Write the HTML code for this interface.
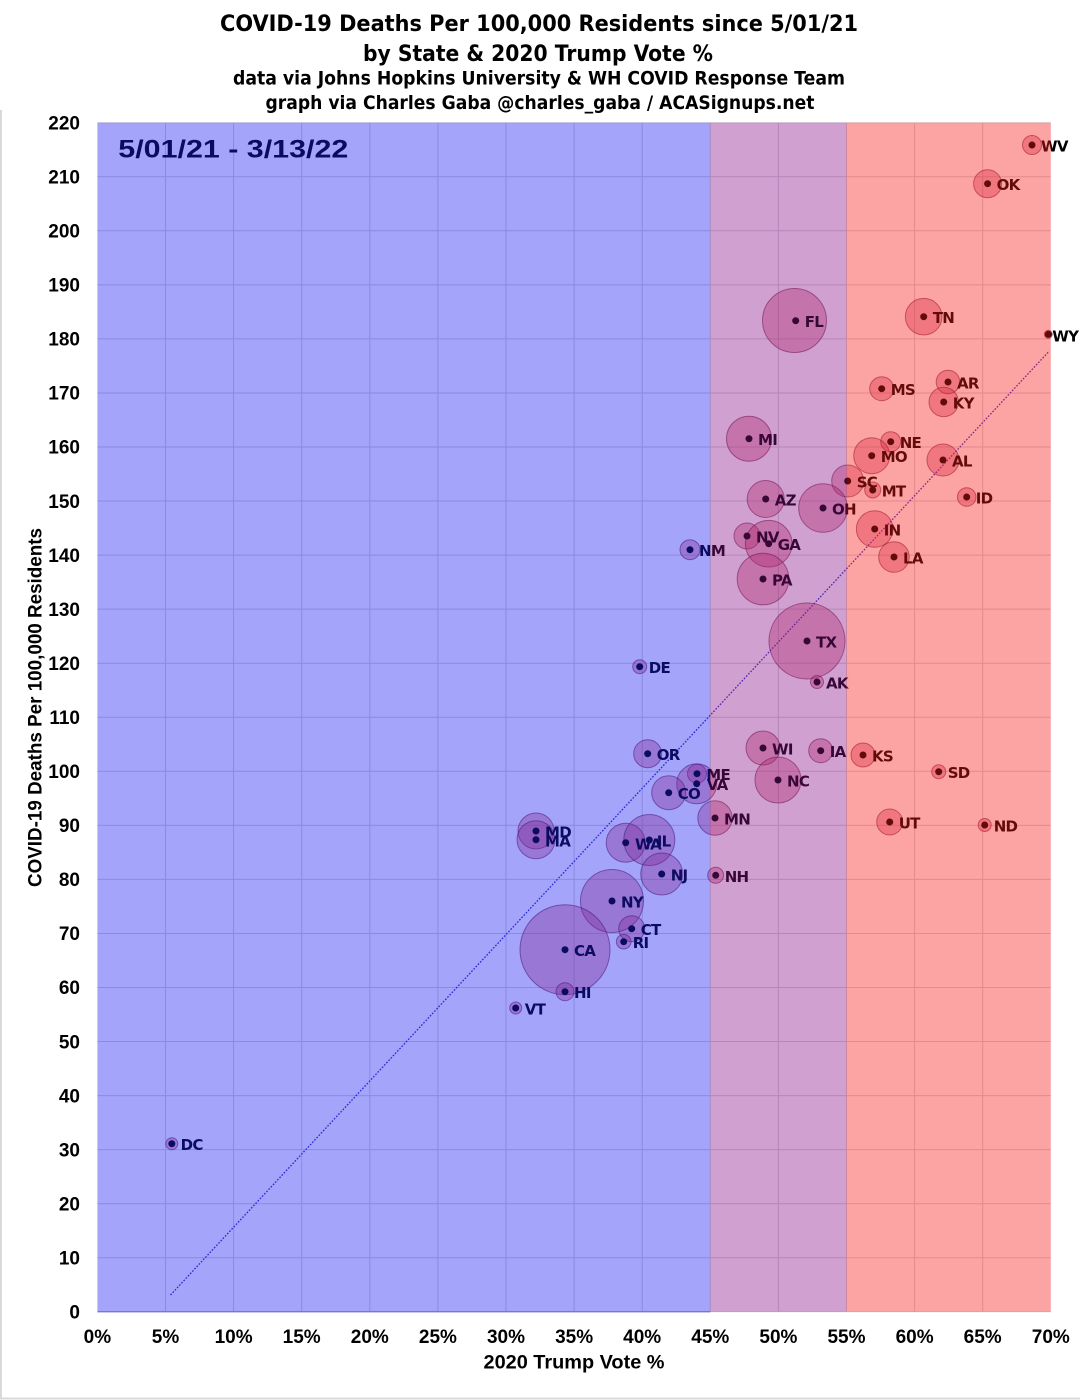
<!DOCTYPE html>
<html>
<head>
<meta charset="utf-8">
<style>
  html,body{margin:0;padding:0;background:#fff;}
  svg{display:block;}
  .g{stroke:#d4d4d8;stroke-width:1;fill:none;}
  .b{fill:rgba(200,50,85,0.36);stroke:rgba(100,20,50,0.55);stroke-width:1;}
  .d{fill:#000;}
  .l{font-family:"DejaVu Sans","Liberation Sans",sans-serif;font-weight:bold;font-size:15px;letter-spacing:-0.7px;fill:#000;}
  .t{font-family:"DejaVu Sans","Liberation Sans",sans-serif;font-weight:bold;fill:#000;}
  .a{font-family:"Liberation Sans",Arial,sans-serif;font-weight:bold;font-size:19px;fill:#000;}
</style>
</head>
<body>
<svg width="1080" height="1400" viewBox="0 0 1080 1400" xmlns="http://www.w3.org/2000/svg">
  <rect x="0" y="0" width="1080" height="1400" fill="#fff"/>
  <!-- frame -->
  <line x1="1" y1="110" x2="1" y2="1399" stroke="#d9d9d9" stroke-width="2"/>
  <line x1="0" y1="1398.5" x2="1080" y2="1398.5" stroke="#d9d9d9" stroke-width="2"/>

  <!-- titles -->
  <text class="t" x="539" y="31" font-size="22" text-anchor="middle" textLength="638" lengthAdjust="spacingAndGlyphs">COVID-19 Deaths Per 100,000 Residents since 5/01/21</text>
  <text class="t" x="538" y="61" font-size="22" text-anchor="middle" textLength="350" lengthAdjust="spacingAndGlyphs">by State &amp; 2020 Trump Vote %</text>
  <text class="t" x="539" y="84.5" font-size="18.7" text-anchor="middle" textLength="612" lengthAdjust="spacingAndGlyphs">data via Johns Hopkins University &amp; WH COVID Response Team</text>
  <text class="t" x="540" y="109" font-size="19" text-anchor="middle" textLength="549" lengthAdjust="spacingAndGlyphs">graph via Charles Gaba @charles_gaba / ACASignups.net</text>

  <!-- gridlines horizontal -->
  <g class="g">
    <line x1="97.4" x2="1050.8" y1="122.7" y2="122.7"/>
    <line x1="97.4" x2="1050.8" y1="176.75" y2="176.75"/>
    <line x1="97.4" x2="1050.8" y1="230.8" y2="230.8"/>
    <line x1="97.4" x2="1050.8" y1="284.85" y2="284.85"/>
    <line x1="97.4" x2="1050.8" y1="338.9" y2="338.9"/>
    <line x1="97.4" x2="1050.8" y1="392.95" y2="392.95"/>
    <line x1="97.4" x2="1050.8" y1="447" y2="447"/>
    <line x1="97.4" x2="1050.8" y1="501.05" y2="501.05"/>
    <line x1="97.4" x2="1050.8" y1="555.1" y2="555.1"/>
    <line x1="97.4" x2="1050.8" y1="609.15" y2="609.15"/>
    <line x1="97.4" x2="1050.8" y1="663.2" y2="663.2"/>
    <line x1="97.4" x2="1050.8" y1="717.25" y2="717.25"/>
    <line x1="97.4" x2="1050.8" y1="771.3" y2="771.3"/>
    <line x1="97.4" x2="1050.8" y1="825.35" y2="825.35"/>
    <line x1="97.4" x2="1050.8" y1="879.4" y2="879.4"/>
    <line x1="97.4" x2="1050.8" y1="933.45" y2="933.45"/>
    <line x1="97.4" x2="1050.8" y1="987.5" y2="987.5"/>
    <line x1="97.4" x2="1050.8" y1="1041.55" y2="1041.55"/>
    <line x1="97.4" x2="1050.8" y1="1095.6" y2="1095.6"/>
    <line x1="97.4" x2="1050.8" y1="1149.65" y2="1149.65"/>
    <line x1="97.4" x2="1050.8" y1="1203.7" y2="1203.7"/>
    <line x1="97.4" x2="1050.8" y1="1257.75" y2="1257.75"/>
    <line x1="97.4" x2="1050.8" y1="1311.8" y2="1311.8"/>
    <!-- vertical -->
    <line y1="122.7" y2="1311.8" x1="165.5" x2="165.5"/>
    <line y1="122.7" y2="1311.8" x1="233.6" x2="233.6"/>
    <line y1="122.7" y2="1311.8" x1="301.7" x2="301.7"/>
    <line y1="122.7" y2="1311.8" x1="369.8" x2="369.8"/>
    <line y1="122.7" y2="1311.8" x1="437.9" x2="437.9"/>
    <line y1="122.7" y2="1311.8" x1="506" x2="506"/>
    <line y1="122.7" y2="1311.8" x1="574.1" x2="574.1"/>
    <line y1="122.7" y2="1311.8" x1="642.2" x2="642.2"/>
    <line y1="122.7" y2="1311.8" x1="710.3" x2="710.3"/>
    <line y1="122.7" y2="1311.8" x1="778.4" x2="778.4"/>
    <line y1="122.7" y2="1311.8" x1="846.5" x2="846.5"/>
    <line y1="122.7" y2="1311.8" x1="914.6" x2="914.6"/>
    <line y1="122.7" y2="1311.8" x1="982.7" x2="982.7"/>
  </g>

  <!-- trendline -->
  <line x1="170.5" y1="1295" x2="1049.3" y2="351" stroke="#3030c0" stroke-width="1.3" stroke-dasharray="1.6 1.6"/>

  <!-- bubbles -->
  <g>
    <circle class="b" cx="1032" cy="145" r="9.5"/>
    <circle class="b" cx="987.6" cy="183.7" r="14"/>
    <circle class="b" cx="794.5" cy="320.5" r="32"/>
    <circle class="b" cx="923.7" cy="316.7" r="18.3"/>
    <circle class="b" cx="1048.3" cy="334.3" r="4"/>
    <circle class="b" cx="948" cy="382" r="11.8"/>
    <circle class="b" cx="881.7" cy="388.7" r="12"/>
    <circle class="b" cx="943.7" cy="402" r="14.7"/>
    <circle class="b" cx="749" cy="438.7" r="22.5"/>
    <circle class="b" cx="890.7" cy="441.7" r="10"/>
    <circle class="b" cx="871.7" cy="455.7" r="18"/>
    <circle class="b" cx="943" cy="460" r="16"/>
    <circle class="b" cx="847.7" cy="481" r="16"/>
    <circle class="b" cx="872.7" cy="490" r="8"/>
    <circle class="b" cx="966.7" cy="497" r="9.3"/>
    <circle class="b" cx="765.7" cy="499" r="18.5"/>
    <circle class="b" cx="823" cy="508" r="24.3"/>
    <circle class="b" cx="874.7" cy="529" r="18.3"/>
    <circle class="b" cx="747" cy="536" r="13"/>
    <circle class="b" cx="768.7" cy="543.7" r="23.3"/>
    <circle class="b" cx="690" cy="549.7" r="10"/>
    <circle class="b" cx="894" cy="557" r="15.3"/>
    <circle class="b" cx="763" cy="579" r="25.8"/>
    <circle class="b" cx="807" cy="641" r="38"/>
    <circle class="b" cx="639.7" cy="666.7" r="7"/>
    <circle class="b" cx="817" cy="682" r="6.5"/>
    <circle class="b" cx="647.7" cy="753.7" r="14"/>
    <circle class="b" cx="763" cy="748" r="17"/>
    <circle class="b" cx="820.7" cy="750.7" r="12"/>
    <circle class="b" cx="863" cy="755" r="12"/>
    <circle class="b" cx="697" cy="773.7" r="9.5"/>
    <circle class="b" cx="938.7" cy="771.7" r="7"/>
    <circle class="b" cx="696.7" cy="783.7" r="20"/>
    <circle class="b" cx="778" cy="780" r="23"/>
    <circle class="b" cx="668.7" cy="792.7" r="17"/>
    <circle class="b" cx="715" cy="818" r="17.2"/>
    <circle class="b" cx="889.7" cy="822" r="13"/>
    <circle class="b" cx="984.7" cy="825" r="6.5"/>
    <circle class="b" cx="536" cy="831" r="18"/>
    <circle class="b" cx="536" cy="839.7" r="19"/>
    <circle class="b" cx="625.7" cy="842.7" r="19.5"/>
    <circle class="b" cx="649.3" cy="840" r="25.5"/>
    <circle class="b" cx="661.7" cy="874" r="21"/>
    <circle class="b" cx="715.7" cy="875.3" r="8"/>
    <circle class="b" cx="612" cy="901" r="31.5"/>
    <circle class="b" cx="631.7" cy="928.7" r="13"/>
    <circle class="b" cx="623.7" cy="941.7" r="7.3"/>
    <circle class="b" cx="565" cy="949.7" r="45"/>
    <circle class="b" cx="565" cy="991.7" r="9"/>
    <circle class="b" cx="515.7" cy="1008" r="6"/>
    <circle class="b" cx="171.8" cy="1143.7" r="6"/>
  </g>

  <!-- dots -->
  <g class="d">
    <circle cx="1032" cy="145" r="3.5"/>
    <circle cx="987.6" cy="183.7" r="3.5"/>
    <circle cx="795.7" cy="320.7" r="3.5"/>
    <circle cx="923.7" cy="316.7" r="3.5"/>
    <circle cx="1048.3" cy="334.3" r="3.5"/>
    <circle cx="948" cy="382" r="3.5"/>
    <circle cx="881.7" cy="388.7" r="3.5"/>
    <circle cx="943.7" cy="402" r="3.5"/>
    <circle cx="749" cy="438.7" r="3.5"/>
    <circle cx="890.7" cy="441.7" r="3.5"/>
    <circle cx="871.7" cy="455.7" r="3.5"/>
    <circle cx="943" cy="460" r="3.5"/>
    <circle cx="847.7" cy="481" r="3.5"/>
    <circle cx="872.7" cy="490" r="3.5"/>
    <circle cx="966.7" cy="497" r="3.5"/>
    <circle cx="765.7" cy="499" r="3.5"/>
    <circle cx="823" cy="508" r="3.5"/>
    <circle cx="874.7" cy="529" r="3.5"/>
    <circle cx="747" cy="536" r="3.5"/>
    <circle cx="768.7" cy="543.7" r="3.5"/>
    <circle cx="690" cy="549.7" r="3.5"/>
    <circle cx="894" cy="557" r="3.5"/>
    <circle cx="763" cy="579" r="3.5"/>
    <circle cx="807" cy="641" r="3.5"/>
    <circle cx="639.7" cy="666.7" r="3.5"/>
    <circle cx="817" cy="682" r="3.5"/>
    <circle cx="647.7" cy="753.7" r="3.5"/>
    <circle cx="763" cy="748" r="3.5"/>
    <circle cx="820.7" cy="750.7" r="3.5"/>
    <circle cx="863" cy="755" r="3.5"/>
    <circle cx="697" cy="773.7" r="3.5"/>
    <circle cx="938.7" cy="771.7" r="3.5"/>
    <circle cx="696.7" cy="783.7" r="3.5"/>
    <circle cx="778" cy="780" r="3.5"/>
    <circle cx="668.7" cy="792.7" r="3.5"/>
    <circle cx="715" cy="818" r="3.5"/>
    <circle cx="889.7" cy="822" r="3.5"/>
    <circle cx="984.7" cy="825" r="3.5"/>
    <circle cx="536" cy="831" r="3.5"/>
    <circle cx="536" cy="839.7" r="3.5"/>
    <circle cx="625.7" cy="842.7" r="3.5"/>
    <circle cx="649.3" cy="840" r="3.5"/>
    <circle cx="661.7" cy="874" r="3.5"/>
    <circle cx="715.7" cy="875.3" r="3.5"/>
    <circle cx="612" cy="901" r="3.5"/>
    <circle cx="631.7" cy="928.7" r="3.5"/>
    <circle cx="623.7" cy="941.7" r="3.5"/>
    <circle cx="565" cy="949.7" r="3.5"/>
    <circle cx="565" cy="991.7" r="3.5"/>
    <circle cx="515.7" cy="1008" r="3.5"/>
    <circle cx="171.8" cy="1143.7" r="3.5"/>
  </g>

  <!-- state labels -->
  <g class="l">
    <text x="1041" y="151.5">WV</text>
    <text x="996.6" y="190.2">OK</text>
    <text x="804.7" y="327.2">FL</text>
    <text x="932.7" y="323.2">TN</text>
    <text x="1052.3" y="341.5">WY</text>
    <text x="957" y="388.5">AR</text>
    <text x="890.7" y="395.2">MS</text>
    <text x="952.7" y="408.5">KY</text>
    <text x="758" y="445.2">MI</text>
    <text x="899.7" y="448.2">NE</text>
    <text x="880.7" y="462.2">MO</text>
    <text x="952" y="466.5">AL</text>
    <text x="856.7" y="487.5">SC</text>
    <text x="881.7" y="496.5">MT</text>
    <text x="975.7" y="503.5">ID</text>
    <text x="774.7" y="505.5">AZ</text>
    <text x="832" y="514.5">OH</text>
    <text x="883.7" y="535.5">IN</text>
    <text x="756" y="542.5">NV</text>
    <text x="777.7" y="550.2">GA</text>
    <text x="699" y="556.2">NM</text>
    <text x="903" y="563.5">LA</text>
    <text x="772" y="585.5">PA</text>
    <text x="816" y="647.5">TX</text>
    <text x="648.7" y="673.2">DE</text>
    <text x="826" y="688.5">AK</text>
    <text x="656.7" y="760.2">OR</text>
    <text x="772" y="754.5">WI</text>
    <text x="829.7" y="757.2">IA</text>
    <text x="872" y="761.5">KS</text>
    <text x="706.3" y="780.2">ME</text>
    <text x="947.7" y="778.2">SD</text>
    <text x="706.7" y="790.2">VA</text>
    <text x="787" y="786.5">NC</text>
    <text x="677.7" y="799.2">CO</text>
    <text x="724" y="824.5">MN</text>
    <text x="898.7" y="828.5">UT</text>
    <text x="993.7" y="831.5">ND</text>
    <text x="545" y="837.5">MD</text>
    <text x="545" y="846.5">MA</text>
    <text x="635" y="849.5">WA</text>
    <text x="656.7" y="846.5">IL</text>
    <text x="670.7" y="880.5">NJ</text>
    <text x="724.7" y="881.8">NH</text>
    <text x="621" y="907.5">NY</text>
    <text x="640.7" y="935.2">CT</text>
    <text x="632.7" y="948.2">RI</text>
    <text x="574" y="956.2">CA</text>
    <text x="574" y="998.2">HI</text>
    <text x="524.7" y="1014.5">VT</text>
    <text x="180.6" y="1150.2">DC</text>
  </g>

  <!-- date label -->
  <text x="118.3" y="157.3" font-family="Liberation Sans, Arial, sans-serif" font-weight="bold" font-size="25" textLength="230" lengthAdjust="spacingAndGlyphs" fill="#000">5/01/21 - 3/13/22</text>

  <!-- region overlays -->
  <rect x="97.4" y="122.7" width="612.9" height="1189.1" fill="rgba(28,28,243,0.4)"/>
  <rect x="710.3" y="122.7" width="136.2" height="1189.1" fill="rgba(137,17,137,0.4)"/>
  <rect x="846.5" y="122.7" width="204.3" height="1189.1" fill="rgba(247,27,27,0.4)"/>
  <line x1="97.4" x2="710.3" y1="1311.8" y2="1311.8" stroke="rgba(90,90,210,0.6)" stroke-width="1.5"/>

  <!-- y tick labels -->
  <g class="a" text-anchor="end">
    <text x="80" y="129.4">220</text>
    <text x="80" y="183.45">210</text>
    <text x="80" y="237.5">200</text>
    <text x="80" y="291.55">190</text>
    <text x="80" y="345.6">180</text>
    <text x="80" y="399.65">170</text>
    <text x="80" y="453.7">160</text>
    <text x="80" y="507.75">150</text>
    <text x="80" y="561.8">140</text>
    <text x="80" y="615.85">130</text>
    <text x="80" y="669.9">120</text>
    <text x="80" y="723.95">110</text>
    <text x="80" y="778">100</text>
    <text x="80" y="832.05">90</text>
    <text x="80" y="886.1">80</text>
    <text x="80" y="940.15">70</text>
    <text x="80" y="994.2">60</text>
    <text x="80" y="1048.25">50</text>
    <text x="80" y="1102.3">40</text>
    <text x="80" y="1156.35">30</text>
    <text x="80" y="1210.4">20</text>
    <text x="80" y="1264.45">10</text>
    <text x="80" y="1318.5">0</text>
  </g>

  <!-- x tick labels -->
  <g class="a" text-anchor="middle">
    <text x="97.4" y="1343">0%</text>
    <text x="165.5" y="1343">5%</text>
    <text x="233.6" y="1343">10%</text>
    <text x="301.7" y="1343">15%</text>
    <text x="369.8" y="1343">20%</text>
    <text x="437.9" y="1343">25%</text>
    <text x="506" y="1343">30%</text>
    <text x="574.1" y="1343">35%</text>
    <text x="642.2" y="1343">40%</text>
    <text x="710.3" y="1343">45%</text>
    <text x="778.4" y="1343">50%</text>
    <text x="846.5" y="1343">55%</text>
    <text x="914.6" y="1343">60%</text>
    <text x="982.7" y="1343">65%</text>
    <text x="1050.8" y="1343">70%</text>
  </g>

  <!-- axis titles -->
  <text x="574" y="1368.3" text-anchor="middle" font-family="Liberation Sans, Arial, sans-serif" font-weight="bold" font-size="19" textLength="181" lengthAdjust="spacingAndGlyphs" fill="#000">2020 Trump Vote %</text>
  <text transform="translate(41.3,707.5) rotate(-90)" x="0" y="0" text-anchor="middle" font-family="Liberation Sans, Arial, sans-serif" font-weight="bold" font-size="19" textLength="359" lengthAdjust="spacingAndGlyphs" fill="#000">COVID-19 Deaths Per 100,000 Residents</text>
</svg>
</body>
</html>
